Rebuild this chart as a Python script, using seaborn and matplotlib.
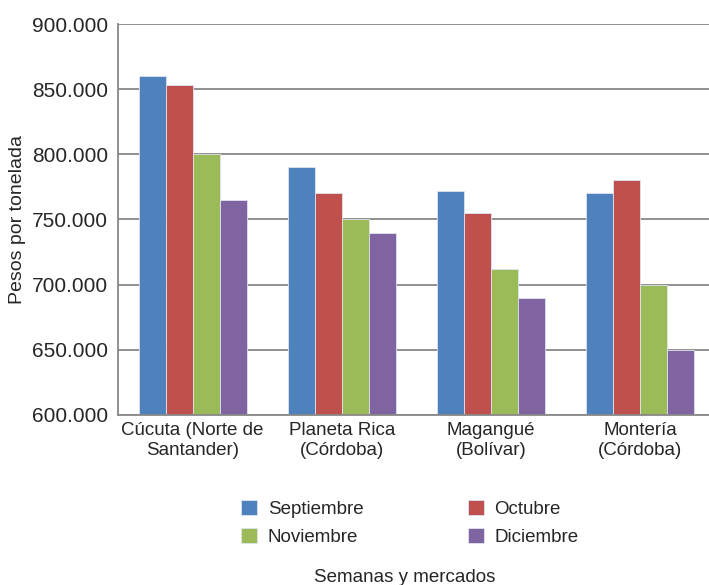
import pandas as pd
import matplotlib
matplotlib.use('Agg')
import matplotlib.pyplot as plt
import matplotlib.ticker as mticker
import seaborn as sns

# Datos
mercados = ['Cúcuta (Norte de\nSantander)', 'Planeta Rica\n(Córdoba)', 'Magangué\n(Bolívar)', 'Montería\n(Córdoba)']
meses = ['Septiembre', 'Octubre', 'Noviembre', 'Diciembre']
septiembre = [860000, 790000, 772000, 770000]
octubre = [853000, 770000, 755000, 780000]
noviembre = [800000, 750000, 712000, 700000]
diciembre = [765000, 740000, 690000, 650000]
colores = ['#4F81BD', '#C0504D', '#9BBB59', '#8064A2']

filas = []
for mes, valores in zip(meses, [septiembre, octubre, noviembre, diciembre]):
    for mercado, v in zip(mercados, valores):
        filas.append({'mercado': mercado, 'mes': mes, 'precio': v})
df = pd.DataFrame(filas)

sns.set_style('white')
plt.rcParams['font.family'] = ['Liberation Sans', 'DejaVu Sans']

fig = plt.figure(figsize=(7.09, 5.85), dpi=100)
ax = fig.add_axes([118 / 709, 1 - 415 / 585, 1 - 118 / 709, (415 - 24) / 585])

sns.barplot(ax=ax, data=df, x='mercado', y='precio', hue='mes', palette=colores,
            width=0.725, saturation=1, edgecolor='#dde4f0', linewidth=0.6, legend=True)

ax.set_ylim(600000, 900000)
ax.set_xlim(-0.5, 3.46)
ax.yaxis.set_major_locator(mticker.MultipleLocator(50000))
ax.yaxis.set_major_formatter(mticker.FuncFormatter(lambda v, p: f'{int(v):,}'.replace(',', '.')))
ax.grid(axis='y', color='#888888', linewidth=1.3)
ax.set_axisbelow(True)
for s in ['top', 'right']:
    ax.spines[s].set_visible(False)
ax.spines['left'].set_color('#888888')
ax.spines['bottom'].set_color('#888888')
ax.spines['left'].set_linewidth(1.3)
ax.spines['bottom'].set_linewidth(1.3)
ax.tick_params(axis='y', length=6, color='#888888', width=1.3, labelsize=15, pad=1)
ax.tick_params(axis='x', length=0, labelsize=13.5, pad=5)

ax.set_xlabel('')
ax.set_ylabel('Pesos por tonelada', fontsize=14)
ax.yaxis.set_label_coords(-0.156, 0.5)

# Leyenda en filas: Septiembre/Octubre arriba, Noviembre/Diciembre abajo
handles, labels = ax.get_legend_handles_labels()
ax.get_legend().remove()
orden = [0, 2, 1, 3]
fig.legend([handles[i] for i in orden], [labels[i] for i in orden], loc='center',
           bbox_to_anchor=(410 / 709, 1 - 523 / 585), ncol=2,
           frameon=False, fontsize=13.5, handlelength=0.85, handleheight=0.85, columnspacing=5.6,
           handletextpad=0.55, labelspacing=0.55)

fig.text(405 / 709, 1 - 577 / 585, 'Semanas y mercados', ha='center', va='center', fontsize=13.5)

fig.savefig('out.png', dpi=100)
